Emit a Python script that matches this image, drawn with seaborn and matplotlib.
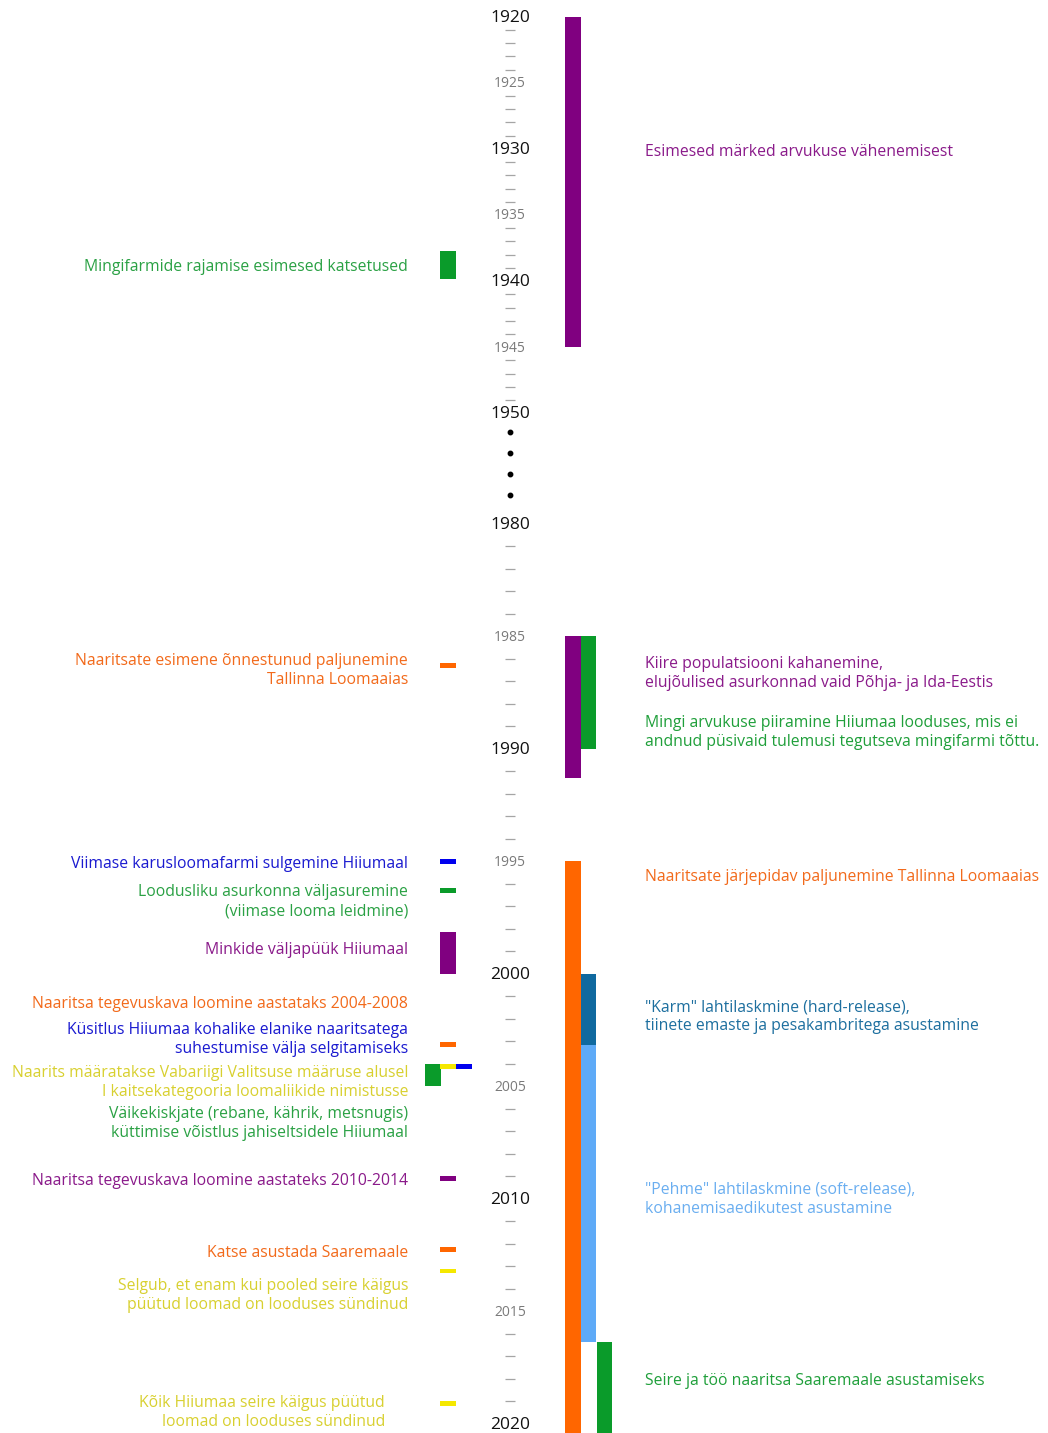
import numpy as np
import matplotlib
matplotlib.use("Agg")
import matplotlib.pyplot as plt
import matplotlib.transforms as mtransforms
import seaborn as sns

## data

# period bars (right of the year axis)
bar_start = [1920, 1985, 1985, 1995, 2000, 2003.15, 2016.35]
bar_end = [1945, 1991.3, 1990, 2021, 2003.15, 2016.35, 2021]
bar_lane = [0, 0, 1, 0, 1, 1, 2]
bar_color = ["#800080", "#800080", "#0a9b2a", "#ff6600", "#10699f", "#5eaaf7", "#0a9b2a"]

right_text = [
    "Esimesed märked arvukuse vähenemisest",
    "Kiire populatsiooni kahanemine,\nelujõulised asurkonnad vaid Põhja- ja Ida-Eestis",
    "Mingi arvukuse piiramine Hiiumaa looduses, mis ei\nandnud püsivaid tulemusi tegutseva mingifarmi tõttu.",
    "Naaritsate järjepidav paljunemine Tallinna Loomaaias",
    "\"Karm\" lahtilaskmine (hard-release),\ntiinete emaste ja pesakambritega asustamine",
    "\"Pehme\" lahtilaskmine (soft-release),\nkohanemisaedikutest asustamine",
    "Seire ja töö naaritsa Saaremaale asustamiseks",
]
right_year = [1930.07, 1986.53, 1989.16, 1995.6, 2001.78, 2009.91, 2017.96]
right_color = ["#8a1a8a", "#8a1a8a", "#1f9f3a", "#f26a1b", "#1d6f9f", "#6aaef0", "#1f9f3a"]

# single events (left of the year axis), length 0 = one-off event
ev_year = [1937.7, 1986.3, 1995.0, 1996.3, 1998.15, 2003.15, 2004.0, 2004.13, 2004.13, 2009.1, 2012.25, 2013.2, 2019.1]
ev_len = [2.15, 0, 0, 0, 1.85, 0, 1.0, 0, 0, 0, 0, 0, 0]
ev_lane = [0, 0, 0, 0, 0, 0, -1, 0, 1, 0, 0, 0, 0]
ev_color = ["#0a9b2a", "#ff6600", "#0000ee", "#0a9b2a", "#800080", "#ff6600", "#0a9b2a",
            "#f5e800", "#0000ee", "#800080", "#ff6600", "#f5e800", "#f5e800"]

left_text = [
    "Mingifarmide rajamise esimesed katsetused",
    "Naaritsate esimene õnnestunud paljunemine\nTallinna Loomaaias",
    "Viimase karusloomafarmi sulgemine Hiiumaal",
    "Loodusliku asurkonna väljasuremine\n(viimase looma leidmine)",
    "Minkide väljapüük Hiiumaal",
    "Naaritsa tegevuskava loomine aastataks 2004-2008",
    "Küsitlus Hiiumaa kohalike elanike naaritsatega\nsuhestumise välja selgitamiseks",
    "Naarits määratakse Vabariigi Valitsuse määruse alusel\nI kaitsekategooria loomaliikide nimistusse",
    "Väikekiskjate (rebane, kährik, metsnugis)\nküttimise võistlus jahiseltsidele Hiiumaal",
    "Naaritsa tegevuskava loomine aastateks 2010-2014",
    "Katse asustada Saaremaale",
    "Selgub, et enam kui pooled seire käigus\npüütud loomad on looduses sündinud",
    "Kõik Hiiumaa seire käigus püütud\nloomad on looduses sündinud",
]
left_year = [1938.78, 1986.4, 1995.02, 1996.67, 1998.84, 2001.24, 2002.8, 2004.71,
             2006.53, 2009.11, 2012.31, 2014.18, 2019.38]
left_color = ["#2aa144", "#f26a1b", "#1a1ad0", "#2aa144", "#8a1a8a", "#f26a1b", "#1a1ad0",
              "#d8d030", "#2aa144", "#8a1a8a", "#f26a1b", "#d8d030", "#d8d030"]
left_indent = [0, 0, 0, 0, 0, 0, 0, 0, 0, 0, 0, 0, 23]

major_years = [1920, 1930, 1940, 1950, 1980, 1990, 2000, 2010, 2020]
half_years = [1925, 1935, 1945, 1985, 1995, 2005, 2015]

## axis with a broken time scale (1950-1980 squeezed)

brk_year = [1800, 1920, 1950, 1980, 2100]
brk_pix = [16.7 - 120 * 13.22, 16.7, 413.3, 524, 524 + 120 * 22.5]


def fwd(y):
    return np.interp(y, brk_year, brk_pix)


def inv(p):
    return np.interp(p, brk_pix, brk_year)


sns.set_theme(style="white")
plt.rcParams["font.family"] = ["Open Sans", "DejaVu Sans"]

fig, ax = plt.subplots(figsize=(10.48, 14.33), dpi=100)
fig.subplots_adjust(left=0, right=1, top=1, bottom=0)
ax.set_yscale("function", functions=(fwd, inv))
ax.set_xlim(0, 1048)
ax.set_ylim(inv(1433), inv(0))
ax.axis("off")

# text sits a touch lower than matplotlib's centre
txt_tr = mtransforms.offset_copy(ax.transData, fig=fig, y=-2.5, units="dots")
yr_tr = mtransforms.offset_copy(ax.transData, fig=fig, y=-1, units="dots")

lane_x = [573, 588.5, 604.5]
lane_w = 15.5
ev_x = 448
ev_w = 16
tick_x = 510

for s, e, ln, c in zip(bar_start, bar_end, bar_lane, bar_color):
    ax.bar(lane_x[ln], e - s, bottom=s, width=lane_w, color=c, linewidth=0)

for y, L, ln, c in zip(ev_year, ev_len, ev_lane, ev_color):
    x = ev_x + ln * 15.5
    if L > 0:
        ax.bar(x, L, bottom=y, width=ev_w, color=c, linewidth=0)
    else:
        ax.bar(x, 0.22, bottom=y - 0.11, width=ev_w, color=c, linewidth=0)

# year axis
for y in major_years:
    ax.text(tick_x, y, str(y), ha="center", va="center", fontsize=12.5,
            color="#111111", transform=yr_tr)
for y in half_years:
    ax.text(tick_x, y, str(y), ha="center", va="center", fontsize=10,
            color="#7a7a7a", transform=yr_tr)
dash_years = [y for y in list(range(1921, 1950)) + list(range(1981, 2020)) if y % 5 != 0]
ax.plot([tick_x] * len(dash_years), dash_years, ls="none", marker="_",
        markersize=7.5, markeredgewidth=0.9, color="#a5a5a5")
dots = np.linspace(1955.1, 1972.1, 4)
ax.plot([tick_x] * 4, dots, ls="none", marker="o", markersize=3.2, color="black")

for t, y, c in zip(right_text, right_year, right_color):
    ax.text(645, y, t, ha="left", va="center", fontsize=11.3, color=c,
            linespacing=1.25, transform=txt_tr)

for t, y, c, ind in zip(left_text, left_year, left_color, left_indent):
    ax.text(408 - ind, y, t, ha="right", va="center", fontsize=11.3, color=c,
            linespacing=1.25, multialignment="right", transform=txt_tr)

fig.savefig("out.png", dpi=100, facecolor="white")
